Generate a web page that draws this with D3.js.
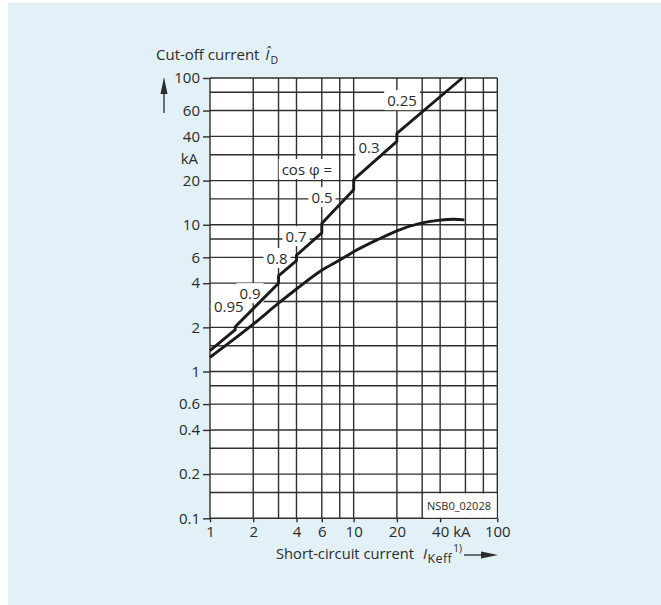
<!DOCTYPE html>
<html>
<head>
<meta charset="utf-8">
<script src="https://cdn.jsdelivr.net/npm/d3@7/dist/d3.min.js"></script>
<style>
  html, body { margin: 0; padding: 0; background: #ffffff; }
  svg { display: block; font-family: "Open Sans", "Noto Sans", sans-serif; }
  text { fill: #2b2b2b; }
</style>
</head>
<body>
<svg id="chart" width="661" height="605"></svg>
<script>
// ---- data ----
const xGridValues = [1, 2, 3, 4, 6, 8, 10, 20, 30, 40, 60, 80, 100];
const yGridValues = [0.1, 0.15, 0.2, 0.3, 0.4, 0.6, 0.8, 1, 1.5, 2, 3, 4, 6, 8, 10, 15, 20, 30, 40, 60, 80, 100];
const xTickValues = [1, 2, 4, 6, 10, 20, 40, 100];
const yTickValues = [0.1, 0.2, 0.4, 0.6, 1, 2, 4, 6, 10, 20, 40, 60, 100];

// cut-off current (upper, stepped at cos phi changes)
const upperX = [1, 1.5, 1.5, 3, 3, 4, 4, 6, 6, 10, 10, 20, 20, 57];
const upperY = [1.39, 1.93, 2.02, 4.0, 4.48, 5.7, 6.2, 8.8, 10.2, 17.3, 20.3, 37, 42, 100];

// lower curve
const lowerX = [1, 2, 3, 4, 6, 8, 10, 15, 20, 30, 40, 50, 59];
const lowerY = [1.25, 2.1, 2.92, 3.65, 4.9, 5.75, 6.55, 8.0, 9.1, 10.3, 10.75, 10.9, 10.8];

// cos phi labels (centre positions in data units)
const cosLabels = ["0.95", "0.9", "0.8", "0.7", "0.5", "0.3", "0.25"];
const cosLabelX = [1.35, 1.90, 2.93, 3.97, 6.02, 12.8, 21.7];
const cosLabelY = [2.76, 3.38, 5.86, 8.27, 15.25, 33.4, 69.8];
const cosTitle = "cos φ =";
const cosTitleX = 4.73;
const cosTitleY = 23.7;

// ---- drawing ----
const svg = d3.select("#chart");
svg.append("rect").attr("x", 8).attr("y", 3).attr("width", 653).attr("height", 602).attr("fill", "#e2f0f7");

const x = d3.scaleLog().domain([1, 100]).range([210, 497.3]);
const y = d3.scaleLog().domain([0.1, 100]).range([518.3, 78]);

const [x0, x1] = x.range();
const [yb, yt] = y.range();

svg.append("rect").attr("x", x0).attr("y", yt).attr("width", x1 - x0).attr("height", yb - yt).attr("fill", "#ffffff");

const grid = svg.append("g").attr("stroke", "#2e2e2e").attr("stroke-width", 1.4);
grid.selectAll("line.v").data(xGridValues).join("line")
  .attr("x1", d => x(d)).attr("x2", d => x(d)).attr("y1", yt).attr("y2", yb);
grid.selectAll("line.h").data(yGridValues).join("line")
  .attr("y1", d => y(d)).attr("y2", d => y(d)).attr("x1", x0).attr("x2", x1);

// axes
const yAxis = d3.axisLeft(y).tickValues(yTickValues).tickFormat(d => String(d)).tickSize(7).tickPadding(3);
const gy = svg.append("g").attr("transform", `translate(${x0},0)`).call(yAxis);
gy.select(".domain").remove();
gy.selectAll(".tick line").attr("stroke", "#2e2e2e").attr("stroke-width", 1.4);
gy.selectAll(".tick text").attr("font-size", 15).attr("fill", "#2b2b2b").attr("font-family", "Open Sans");

const xAxis = d3.axisBottom(x).tickValues(xTickValues).tickFormat(d => String(d)).tickSize(4).tickPadding(4.5);
const gx = svg.append("g").attr("transform", `translate(0,${yb})`).call(xAxis);
gx.select(".domain").remove();
gx.selectAll(".tick line").attr("stroke", "#2e2e2e").attr("stroke-width", 1.4);
gx.selectAll(".tick text").attr("font-size", 15).attr("fill", "#2b2b2b").attr("font-family", "Open Sans");

// layers: white boxes (hide grid) -> curves -> label text
const boxLayer = svg.append("g");
const curveLayer = svg.append("g");
const textLayer = svg.append("g");

function boxedText(tx, ty, str, size, padX, padY) {
  const t = textLayer.append("text").attr("x", tx).attr("y", ty).attr("text-anchor", "middle")
    .attr("dy", "0.35em").attr("font-size", size).text(str);
  const b = t.node().getBBox();
  boxLayer.append("rect").attr("fill", "#ffffff")
    .attr("x", b.x - padX).attr("y", b.y - padY + 1).attr("width", b.width + 2 * padX).attr("height", b.height + 2 * padY - 2);
}

boxedText(x(cosTitleX), y(cosTitleY), cosTitle, 15, 3, 1);
cosLabels.forEach((s, i) => boxedText(x(cosLabelX[i]), y(cosLabelY[i]), s, 15, 3, 1));

// drawing number box
boxLayer.append("rect").attr("x", 424).attr("y", y(0.15) + 1).attr("width", x1 - 424 - 0.7).attr("height", yb - y(0.15) - 1.7).attr("fill", "#ffffff");
textLayer.append("text").attr("x", 459).attr("y", 506.5).attr("dy", "0.35em").attr("text-anchor", "middle").attr("font-size", 11).text("NSB0_02028");

const upperData = upperX.map((d, i) => [d, upperY[i]]);
const lowerData = lowerX.map((d, i) => [d, lowerY[i]]);

curveLayer.append("path").datum(upperData)
  .attr("d", d3.line().x(d => x(d[0])).y(d => y(d[1])))
  .attr("fill", "none").attr("stroke", "#1a1a1a").attr("stroke-width", 2.9).attr("stroke-linejoin", "round");
curveLayer.append("path").datum(lowerData)
  .attr("d", d3.line().x(d => x(d[0])).y(d => y(d[1])).curve(d3.curveMonotoneX))
  .attr("fill", "none").attr("stroke", "#1a1a1a").attr("stroke-width", 2.9);

// kA labels
svg.append("text").attr("x", 198).attr("y", 159).attr("dy", "0.35em").attr("text-anchor", "end").attr("font-size", 15).text("kA");
svg.append("text").attr("x", x(40) + 13).attr("y", yb + 8.5).attr("dy", "0.71em").attr("text-anchor", "start").attr("font-size", 15).text("kA");

// y title
const yt1 = svg.append("text").attr("x", 156).attr("y", 60).attr("font-size", 15);
yt1.append("tspan").text("Cut-off current ");
yt1.append("tspan").attr("font-style", "italic").attr("dx", 2).text("Î");
yt1.append("tspan").attr("font-size", 10.5).attr("dy", 4).attr("dx", 1).text("D");

// up arrow
svg.append("line").attr("x1", 164).attr("x2", 164).attr("y1", 113).attr("y2", 88).attr("stroke", "#2b2b2b").attr("stroke-width", 1.3);
svg.append("path").attr("d", "M164,77 L167.5,94 L160.5,94 Z").attr("fill", "#2b2b2b");

// x title
const xt = svg.append("text").attr("x", 276).attr("y", 559).attr("font-size", 14.7);
xt.append("tspan").text("Short-circuit current");
xt.append("tspan").attr("font-style", "italic").attr("x", 423).text("I");
xt.append("tspan").attr("font-size", 12.5).attr("dy", 4).attr("dx", 0.5).attr("letter-spacing", 0.4).text("Keff");
xt.append("tspan").attr("font-size", 10).attr("dy", -11.5).attr("dx", 1).text("1)");

// right arrow
svg.append("line").attr("x1", 464).attr("x2", 484).attr("y1", 555).attr("y2", 555).attr("stroke", "#2b2b2b").attr("stroke-width", 1.3);
svg.append("path").attr("d", "M498,555 L481,551.5 L481,558.5 Z").attr("fill", "#2b2b2b");
</script>
</body>
</html>
